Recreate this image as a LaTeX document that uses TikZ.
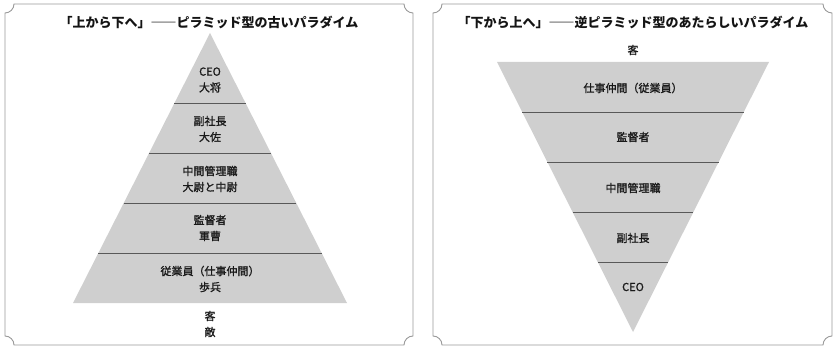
\documentclass[tikz,border=0pt]{standalone}
\usepackage{fontspec}
\newfontfamily\jp{Noto Sans CJK JP}
\newfontfamily\jpm[FakeBold=1.2]{Noto Sans CJK JP}
\usetikzlibrary{calc}
\begin{document}
\begin{tikzpicture}[x=1pt,y=-1pt,
  frame/.style={draw=black!40,line width=0.9pt},
  band/.style={fill=black!19,draw=none},
  divider/.style={draw=black!65,line width=0.8pt},
  lbl/.style={font=\jpm\fontsize{11}{16}\selectfont,text=black!90,align=center,inner sep=0pt},
  ttl/.style={font=\jp\bfseries\fontsize{13}{16}\selectfont,text=black!92,inner sep=0pt}]
\useasboundingbox (0,0) rectangle (835,347);
% panel frames with concave corners
\def\r{9}
\draw[frame] (5+\r,4) -- (413-\r,4) arc[start angle=180,end angle=90,radius=\r]
  -- (413,345-\r) arc[start angle=270,end angle=180,radius=\r]
  -- (5+\r,345) arc[start angle=0,end angle=-90,radius=\r]
  -- (5,4+\r) arc[start angle=90,end angle=0,radius=\r] -- cycle;
\draw[frame] (433+\r,4) -- (832-\r,4) arc[start angle=180,end angle=90,radius=\r]
  -- (832,345-\r) arc[start angle=270,end angle=180,radius=\r]
  -- (433+\r,345) arc[start angle=0,end angle=-90,radius=\r]
  -- (433,4+\r) arc[start angle=90,end angle=0,radius=\r] -- cycle;
% titles
\node[ttl] (t1) at (209,22) {「上から下へ」――ピラミッド型の古いパラダイム};
\node[ttl] (t2) at (633,22) {「下から上へ」――逆ピラミッド型のあたらしいパラダイム};
% left pyramid
\coordinate (LA) at (210,33);
\coordinate (LBL) at (73,303);
\coordinate (LBR) at (347,303);
\fill[band] (LA) -- (LBR) -- (LBL) -- cycle;
\foreach \d in {70,120,170,220}{
  \draw[divider] ($(LA)!\d/270!(LBL)$) -- ($(LA)!\d/270!(LBR)$);
}
\node[lbl] (l1) at (210,80) {CEO\\大将};
\node[lbl] (l2) at (210,129) {副社長\\大佐};
\node[lbl] (l3) at (210,179) {中間管理職\\大尉と中尉};
\node[lbl] (l4) at (210,228) {監督者\\軍曹};
\node[lbl] (l5) at (210,279) {従業員（仕事仲間）\\歩兵};
\node[lbl] (l6) at (210,324) {客\\敵};
% right inverted pyramid
\coordinate (RA) at (633,332);
\coordinate (RTL) at (497,62);
\coordinate (RTR) at (769,62);
\fill[band] (RA) -- (RTR) -- (RTL) -- cycle;
\foreach \d in {70,120,170,220}{
  \draw[divider] ($(RA)!\d/270!(RTL)$) -- ($(RA)!\d/270!(RTR)$);
}
\node[lbl] (r0) at (633,50) {客};
\node[lbl] (r1) at (633,88) {仕事仲間（従業員）};
\node[lbl] (r2) at (633,137) {監督者};
\node[lbl] (r3) at (633,188) {中間管理職};
\node[lbl] (r4) at (633,238) {副社長};
\node[lbl] (r5) at (633,287) {CEO};
\end{tikzpicture}
\end{document}
